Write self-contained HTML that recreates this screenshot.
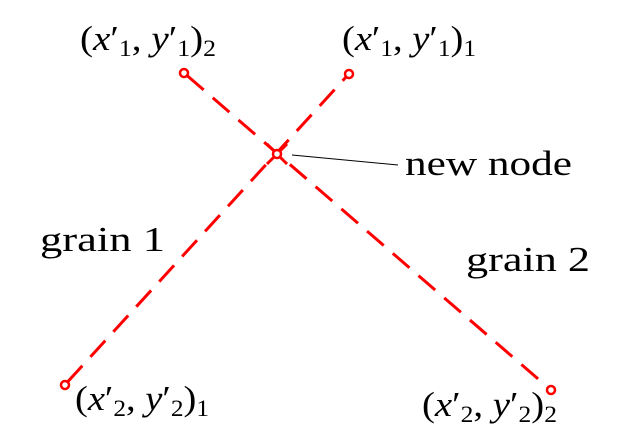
<!DOCTYPE html>
<html><head><style>body{margin:0;background:#fff}</style></head><body>
<svg width="617" height="441" xmlns="http://www.w3.org/2000/svg" font-family="Liberation Serif, serif" font-size="35">
<g stroke="red" stroke-width="3" fill="none">
<line x1="67.5" y1="382" x2="346.5" y2="76.5" stroke-dasharray="22 12"/>
<line x1="187" y1="75.5" x2="548" y2="387.5" stroke-dasharray="22 12"/>
<circle cx="65" cy="385" r="4" stroke-width="2.5" fill="#fff"/>
<circle cx="349" cy="74" r="4" stroke-width="2.5" fill="#fff"/>
<circle cx="184" cy="73" r="4" stroke-width="2.5" fill="#fff"/>
<circle cx="551" cy="390" r="4" stroke-width="2.5" fill="#fff"/>
<line x1="267" y1="144" x2="287" y2="164"/>
<line x1="287" y1="144" x2="267" y2="164"/>
<circle cx="277" cy="154" r="4" stroke-width="2.5" fill="#fff"/>
</g>
<line x1="292" y1="155" x2="398" y2="165" stroke="#000" stroke-width="1"/>
<text x="405" y="175" textLength="167" lengthAdjust="spacingAndGlyphs">new node</text>
<text x="40" y="251" textLength="125" lengthAdjust="spacingAndGlyphs">grain 1</text>
<text x="466" y="271" textLength="124" lengthAdjust="spacingAndGlyphs">grain 2</text>
<text x="80" y="50" textLength="136" lengthAdjust="spacingAndGlyphs">(<tspan font-style="italic">x</tspan>′<tspan font-size="23" dy="6">1</tspan><tspan dy="-6">, </tspan><tspan font-style="italic">y</tspan>′<tspan font-size="23" dy="6">1</tspan><tspan dy="-6">)</tspan><tspan font-size="23" dy="6">2</tspan></text>
<text x="342" y="50" textLength="134" lengthAdjust="spacingAndGlyphs">(<tspan font-style="italic">x</tspan>′<tspan font-size="23" dy="6">1</tspan><tspan dy="-6">, </tspan><tspan font-style="italic">y</tspan>′<tspan font-size="23" dy="6">1</tspan><tspan dy="-6">)</tspan><tspan font-size="23" dy="6">1</tspan></text>
<text x="75" y="410" textLength="134" lengthAdjust="spacingAndGlyphs">(<tspan font-style="italic">x</tspan>′<tspan font-size="23" dy="6">2</tspan><tspan dy="-6">, </tspan><tspan font-style="italic">y</tspan>′<tspan font-size="23" dy="6">2</tspan><tspan dy="-6">)</tspan><tspan font-size="23" dy="6">1</tspan></text>
<text x="422" y="416" textLength="135" lengthAdjust="spacingAndGlyphs">(<tspan font-style="italic">x</tspan>′<tspan font-size="23" dy="6">2</tspan><tspan dy="-6">, </tspan><tspan font-style="italic">y</tspan>′<tspan font-size="23" dy="6">2</tspan><tspan dy="-6">)</tspan><tspan font-size="23" dy="6">2</tspan></text>
</svg>
</body></html>
